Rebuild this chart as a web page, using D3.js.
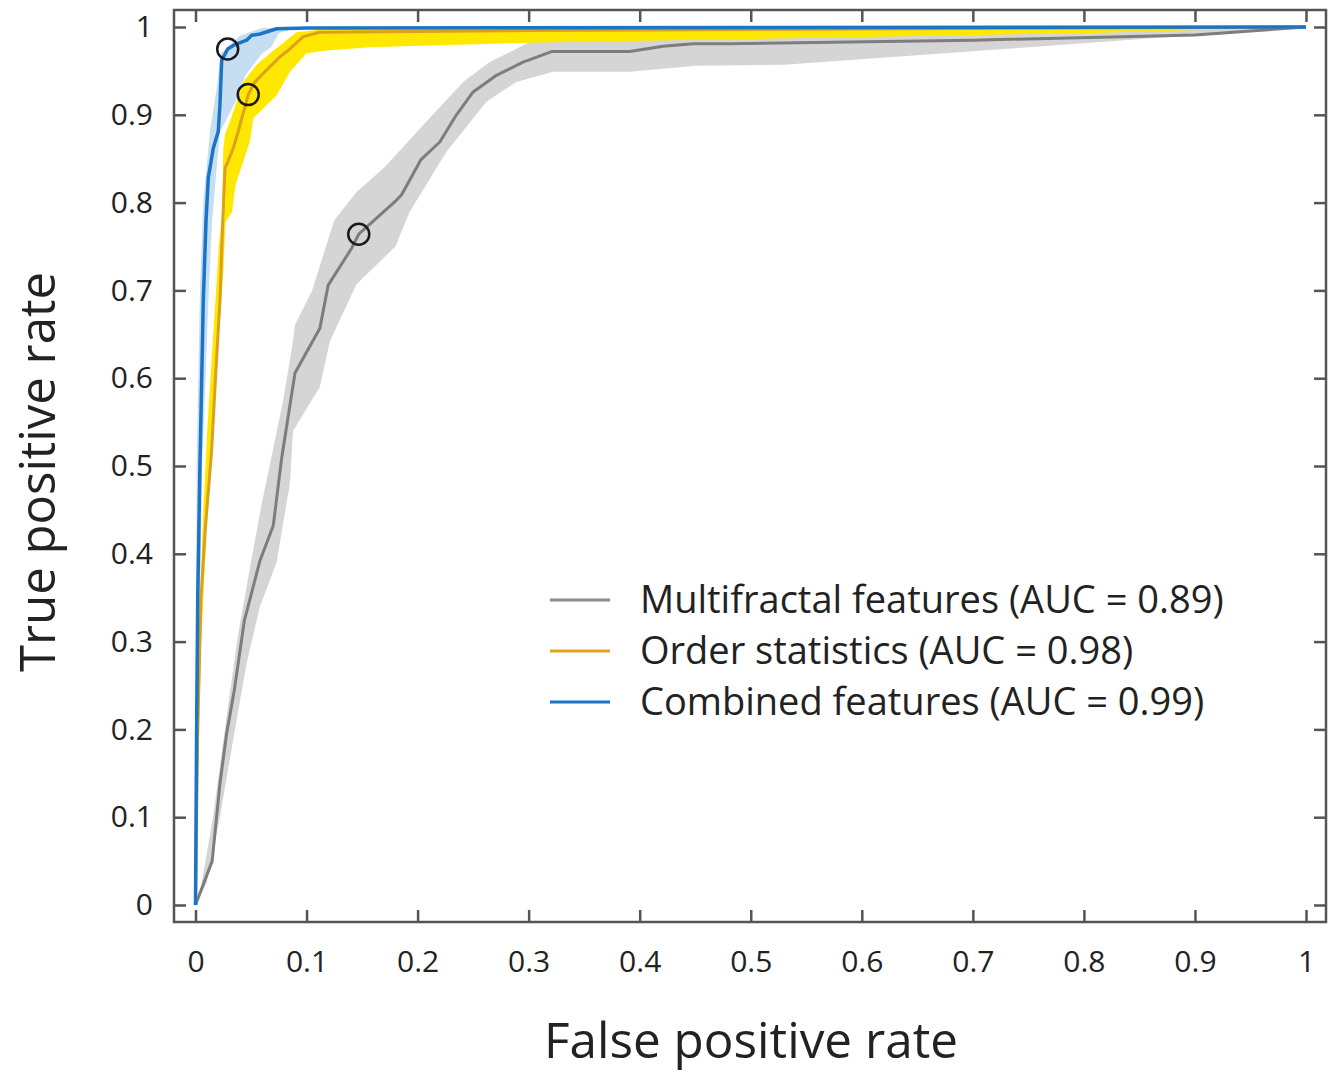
<!DOCTYPE html>
<meta charset="utf-8">
<script src="https://d3js.org/d3.v7.min.js"></script>
<style>
  body { margin: 0; background: #fff; }
  text { font-family: "Open Sans", "Noto Sans", sans-serif; fill: #222; }
</style>
<div id="my_dataviz"></div>
<script>
// ROC curves as [fpr, tpr] pairs
var multiLine = [[0,0],[0.015,0.05],[0.022,0.138],[0.028,0.195],[0.035,0.245],[0.044,0.324],[0.058,0.392],
  [0.070,0.432],[0.0776,0.509],[0.0896,0.606],[0.112,0.657],[0.1195,0.706],[0.1406,0.748],[0.147,0.764],
  [0.1796,0.801],[0.1856,0.809],[0.2005,0.843],[0.203,0.849],[0.220,0.869],[0.235,0.900],[0.250,0.926],
  [0.271,0.945],[0.295,0.960],[0.3206,0.972],[0.391,0.972],[0.421,0.978],[0.448,0.981],[0.481,0.981],
  [0.7,0.985],[0.9,0.991],[1,1]];
var multiBandHi = [[0,0],[0.004,0.014],[0.0158,0.100],[0.028,0.214],[0.038,0.305],[0.049,0.384],[0.0596,0.457],
  [0.070,0.52],[0.0788,0.574],[0.0878,0.642],[0.0896,0.661],[0.105,0.70],[0.115,0.74],[0.125,0.78],
  [0.145,0.812],[0.17,0.84],[0.202,0.884],[0.241,0.9375],[0.265,0.960],[0.301,0.983],[0.331,0.988],
  [0.5,0.991],[0.8,0.996],[1,1]];
var multiBandLo = [[0,0],[0.010,0.025],[0.022,0.100],[0.0338,0.1875],[0.046,0.275],[0.058,0.340],[0.073,0.39],
  [0.085,0.480],[0.0878,0.540],[0.112,0.590],[0.121,0.642],[0.145,0.707],[0.18,0.75],[0.193,0.79],
  [0.226,0.858],[0.262,0.915],[0.289,0.9375],[0.322,0.949],[0.391,0.949],[0.451,0.956],[0.53,0.957],
  [0.75,0.977],[1,1]];

var orderLine = [[0,0],[0.002,0.2],[0.005,0.35],[0.0085,0.423],[0.0145,0.517],[0.018,0.6],[0.022,0.6875],
  [0.025,0.7935],[0.0266,0.84],[0.028,0.843],[0.034,0.862],[0.0385,0.881],[0.0416,0.896],[0.0446,0.909],
  [0.0475,0.923],[0.0536,0.9375],[0.064,0.951],[0.076,0.966],[0.085,0.975],[0.097,0.989],[0.112,0.994],
  [0.3,0.996],[1,1]];
var orderBandHi = [[0,0],[0.003,0.3],[0.007,0.45],[0.011,0.55],[0.016,0.65],[0.021,0.75],[0.024,0.79],
  [0.025,0.86],[0.0266,0.878],[0.031,0.892],[0.043,0.9375],[0.055,0.957],[0.070,0.973],[0.091,0.994],
  [0.12,0.998],[1,1]];
var orderBandLo = [[0,0],[0.005,0.3],[0.011,0.45],[0.016,0.55],[0.021,0.65],[0.025,0.72],[0.027,0.778],
  [0.033,0.79],[0.036,0.82],[0.049,0.87],[0.052,0.896],[0.073,0.922],[0.085,0.949],[0.1,0.970],
  [0.115,0.973],[0.157,0.977],[0.211,0.979],[0.301,0.982],[0.481,0.986],[0.8,0.993],[1,1]];

var combLine = [[0,0],[0.001,0.2],[0.002,0.35],[0.004,0.5],[0.007,0.6875],[0.0095,0.78],[0.0115,0.828],
  [0.016,0.862],[0.0205,0.881],[0.022,0.911],[0.0236,0.962],[0.029,0.975],[0.034,0.979],[0.046,0.985],
  [0.0506,0.9905],[0.058,0.992],[0.073,0.998],[0.1,0.999],[1,1]];
var combBandHi = [[0,0],[0.001,0.5],[0.004,0.7],[0.007,0.8],[0.013,0.88],[0.019,0.93],[0.023,0.97],
  [0.04,0.99],[0.06,0.999],[1,1]];
var combBandLo = [[0,0],[0.006,0.5],[0.012,0.7],[0.015,0.78],[0.019,0.839],[0.022,0.88],[0.03,0.9],
  [0.036,0.915],[0.045,0.945],[0.06,0.97],[0.068,0.977],[0.075,0.993],[0.09,0.999],[1,1]];

// operating points (circles)
var opPoints = [[0.147,0.764],[0.0475,0.923],[0.029,0.975]];

var xTicks = [0,0.1,0.2,0.3,0.4,0.5,0.6,0.7,0.8,0.9,1];
var yTicks = [0,0.1,0.2,0.3,0.4,0.5,0.6,0.7,0.8,0.9,1];
var legendNames = ["Multifractal features (AUC = 0.89)", "Order statistics (AUC = 0.98)", "Combined features (AUC = 0.99)"];
var legendColors = ["#8a8a8a", "#e3a41c", "#1b75c6"];

var W = 1339, H = 1074;
var frame = {left: 174, right: 1326, top: 10, bottom: 922};

var svg = d3.select("#my_dataviz").append("svg")
  .attr("width", W).attr("height", H);

var x = d3.scaleLinear().domain([0,1]).range([195.5, 1306]);
var y = d3.scaleLinear().domain([0,1]).range([905, 27]);

var line = d3.line().x(function(d){ return x(d[0]); }).y(function(d){ return y(d[1]); });
function band(hi, lo) { return line(hi.concat(lo.slice().reverse())) + "Z"; }

// bands
svg.append("path").attr("d", band(multiBandHi, multiBandLo)).attr("fill", "#d5d5d5");
svg.append("path").attr("d", band(combBandHi, combBandLo)).attr("fill", "#c6def1");
svg.append("path").attr("d", band(orderBandHi, orderBandLo)).attr("fill", "#ffe800");

// curves
svg.append("path").attr("d", line(multiLine)).attr("fill", "none")
  .attr("stroke", "#7d7d7d").attr("stroke-width", 3).attr("stroke-linejoin", "round");
svg.append("path").attr("d", line(orderLine)).attr("fill", "none")
  .attr("stroke", "#dd9f1e").attr("stroke-width", 3).attr("stroke-linejoin", "round");
svg.append("path").attr("d", line(combLine)).attr("fill", "none")
  .attr("stroke", "#1b75c6").attr("stroke-width", 3.5).attr("stroke-linejoin", "round");

// operating points
svg.selectAll("circle.op").data(opPoints).enter().append("circle")
  .attr("class", "op")
  .attr("cx", function(d){ return x(d[0]); })
  .attr("cy", function(d){ return y(d[1]); })
  .attr("r", 10.5)
  .attr("fill", "none").attr("stroke", "#1a1a1a").attr("stroke-width", 2.5);

// axes (ticks pointing inwards, on all four sides)
function styleAxis(g) {
  g.select(".domain").remove();
  g.selectAll(".tick line").attr("stroke", "#555").attr("stroke-width", 2.5);
  g.selectAll(".tick text").style("font-size", "30px").attr("fill", "#222");
}
var fmt = function(d){ return d3.format("")(+d.toFixed(1)); };
svg.append("g").attr("transform", "translate(0," + frame.bottom + ")")
  .call(d3.axisBottom(x).tickValues(xTicks).tickFormat(fmt).tickSizeInner(-12).tickSizeOuter(0).tickPadding(29))
  .call(styleAxis);
svg.append("g").attr("transform", "translate(0," + frame.top + ")")
  .call(d3.axisTop(x).tickValues(xTicks).tickFormat("").tickSizeInner(-12).tickSizeOuter(0))
  .call(styleAxis);
svg.append("g").attr("transform", "translate(" + frame.left + ",0)")
  .call(d3.axisLeft(y).tickValues(yTicks).tickFormat(fmt).tickSizeInner(-12).tickSizeOuter(0).tickPadding(21))
  .call(styleAxis);
svg.append("g").attr("transform", "translate(" + frame.right + ",0)")
  .call(d3.axisRight(y).tickValues(yTicks).tickFormat("").tickSizeInner(-12).tickSizeOuter(0))
  .call(styleAxis);

// frame
svg.append("rect")
  .attr("x", frame.left).attr("y", frame.top)
  .attr("width", frame.right - frame.left).attr("height", frame.bottom - frame.top)
  .attr("fill", "none").attr("stroke", "#555").attr("stroke-width", 2.5);

// axis titles
svg.append("text")
  .attr("x", 751).attr("y", 1058)
  .attr("text-anchor", "middle")
  .attr("textLength", 414).attr("lengthAdjust", "spacingAndGlyphs")
  .style("font-size", "50px")
  .text("False positive rate");
svg.append("text")
  .attr("transform", "translate(55,472) rotate(-90)")
  .attr("text-anchor", "middle")
  .attr("textLength", 400).attr("lengthAdjust", "spacingAndGlyphs")
  .style("font-size", "50px")
  .text("True positive rate");

// legend
var leg = svg.selectAll("g.leg").data(legendNames).enter().append("g")
  .attr("class", "leg")
  .attr("transform", function(d, i){ return "translate(550," + (600 + i * 51) + ")"; });
leg.append("line")
  .attr("x1", 0).attr("x2", 60).attr("y1", 0).attr("y2", 0)
  .attr("stroke", function(d, i){ return legendColors[i]; })
  .attr("stroke-width", 3);
leg.append("text")
  .attr("x", 90).attr("y", 13)
  .style("font-size", "38px")
  .text(function(d){ return d; });
</script>
